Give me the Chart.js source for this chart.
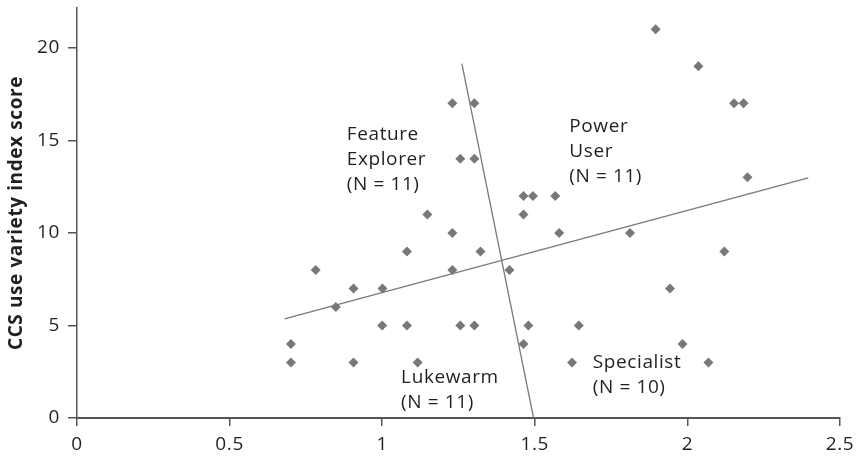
<!DOCTYPE html>
<html>
<head>
<meta charset="utf-8">
<script src="https://cdn.jsdelivr.net/npm/chart.js@4"></script>
<style>
  html, body { margin: 0; padding: 0; background: #fff; }
  #wrap { width: 857px; height: 456px; }
</style>
</head>
<body>
<div id="wrap"><canvas id="c" width="857" height="456"></canvas></div>
<script>
// ---- data ----
const pointsX = [1.230, 1.302, 1.256, 1.302, 1.463, 1.494, 1.463, 1.148, 1.230, 1.081, 1.322,
                 0.782, 1.230, 1.417, 0.906, 1.001, 0.848, 1.000, 1.081, 1.256, 1.302, 1.479,
                 0.701, 1.463, 0.701, 0.906, 1.116,
                 1.896, 2.036, 2.153, 2.184, 2.197, 1.567, 1.580, 1.812, 2.121, 1.943, 1.644,
                 1.984, 1.622, 2.069];
const pointsY = [17, 17, 14, 14, 12, 12, 11, 11, 10, 9, 9,
                 8, 8, 8, 7, 7, 6, 5, 5, 5, 5, 5,
                 4, 4, 3, 3, 3,
                 21, 19, 17, 17, 13, 12, 10, 10, 9, 7, 5,
                 4, 3, 3];
const trendX = [0.680, 2.396];
const trendY = [5.35, 12.97];
const dividerX = [1.261, 1.496];
const dividerY = [19.15, 0];
const xTicks = [0, 0.5, 1, 1.5, 2, 2.5];
const yTicks = [0, 5, 10, 15, 20];
const groupNames = [["Feature", "Explorer", "(N = 11)"], ["Power", "User", "(N = 11)"],
                    ["Lukewarm", "(N = 11)"], ["Specialist", "(N = 10)"]];
const groupLabelX = [0.884, 1.613, 1.062, 1.690];
const groupLabelY = [15.31, 15.76, 2.19, 2.97];
const yTitle = "CCS use variety index score";

const FONT = "'Open Sans', 'Noto Sans', sans-serif";
const TEXT = "#231f20";
const AXIS = "#555555";

const scatter = pointsX.map((x, i) => ({ x, y: pointsY[i] }));
const trend = trendX.map((x, i) => ({ x, y: trendY[i] }));
const divider = dividerX.map((x, i) => ({ x, y: dividerY[i] }));

const spacingPlugin = {
  id: 'spacing',
  beforeDraw(chart) { chart.ctx.letterSpacing = '0.6px'; }
};

const labelPlugin = {
  id: 'groupLabels',
  afterDatasetsDraw(chart) {
    const ctx = chart.ctx;
    const xs = chart.scales.x, ys = chart.scales.y;
    ctx.save();
    ctx.font = "19px " + FONT;
    ctx.fillStyle = TEXT;
    ctx.textAlign = 'left';
    ctx.textBaseline = 'middle';
    groupNames.forEach((lines, i) => {
      const px = xs.getPixelForValue(groupLabelX[i]);
      const py = ys.getPixelForValue(groupLabelY[i]);
      lines.forEach((t, j) => ctx.fillText(t, px, py + j * 25));
    });
    ctx.restore();
  }
};

new Chart(document.getElementById('c'), {
  type: 'scatter',
  data: {
    datasets: [
      { data: scatter, pointStyle: 'rectRot', pointRadius: 5, pointHoverRadius: 5,
        backgroundColor: '#787878', borderColor: '#787878', borderWidth: 0, order: 1 },
      { type: 'line', data: trend, borderColor: '#7a7a7a', borderWidth: 1.3,
        pointRadius: 0, fill: false, order: 2 },
      { type: 'line', data: divider, borderColor: '#7a7a7a', borderWidth: 1.3,
        pointRadius: 0, fill: false, order: 2 }
    ]
  },
  options: {
    responsive: false,
    animation: false,
    events: [],
    layout: { padding: { top: 8, right: 17, left: 0, bottom: 0 } },
    plugins: { legend: { display: false }, tooltip: { enabled: false } },
    scales: {
      x: {
        type: 'linear', min: 0, max: 2.5,
        afterBuildTicks(s) { s.ticks = xTicks.map(v => ({ value: v })); },
        afterFit(s) { s.height = 38; s.paddingLeft = 0; s.paddingRight = 0; },
        ticks: { font: { family: FONT, size: 19 }, color: TEXT, padding: 7,
                 callback: v => String(v) },
        grid: { drawOnChartArea: false, drawTicks: true, tickLength: 8, color: AXIS, lineWidth: 1.5 },
        border: { display: true, color: AXIS, width: 2 }
      },
      y: {
        type: 'linear', min: 0, max: 22.15,
        afterBuildTicks(s) { s.ticks = yTicks.map(v => ({ value: v })); },
        afterFit(s) { s.width = 77; s.paddingTop = 0; s.paddingBottom = 0; },
        ticks: { font: { family: FONT, size: 19 }, color: TEXT, padding: 8 },
        title: { display: true, text: yTitle, font: { family: FONT, size: 19, weight: 'bold' },
                 color: TEXT, padding: { top: 5, bottom: 2 } },
        grid: { drawOnChartArea: false, drawTicks: true, tickLength: 9, color: AXIS, lineWidth: 1.5 },
        border: { display: true, color: AXIS, width: 1.5 }
      }
    }
  },
  plugins: [spacingPlugin, labelPlugin]
});
</script>
</body>
</html>
